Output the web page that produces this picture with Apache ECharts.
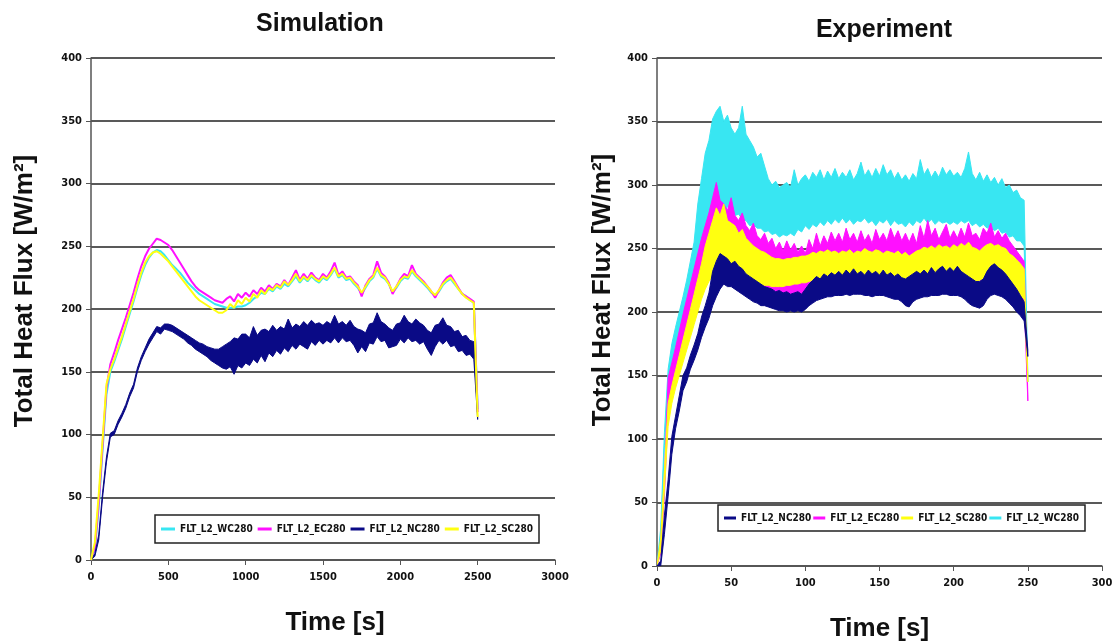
<!DOCTYPE html>
<html>
<head>
<meta charset="utf-8">
<title>Total Heat Flux – Simulation vs Experiment</title>
<script src="https://cdn.jsdelivr.net/npm/echarts@6/dist/echarts.min.js"></script>
<style>
  html, body { margin: 0; padding: 0; background: #ffffff; }
  #chart { width: 1120px; height: 644px; }
</style>
</head>
<body>
<div id="chart"></div>
<script>
// ---------- Simulation (time in s, 25 s sampling) ----------
const simTime = [
  0, 25, 50, 75, 100, 125, 150, 175, 200, 225,
  250, 275, 300, 325, 350, 375, 400, 425, 450, 475,
  500, 525, 550, 575, 600, 625, 650, 675, 700, 725,
  750, 775, 800, 825, 850, 875, 900, 925, 950, 975,
  1000, 1025, 1050, 1075, 1100, 1125, 1150, 1175, 1200, 1225,
  1250, 1275, 1300, 1325, 1350, 1375, 1400, 1425, 1450, 1475,
  1500, 1525, 1550, 1575, 1600, 1625, 1650, 1675, 1700, 1725,
  1750, 1775, 1800, 1825, 1850, 1875, 1900, 1925, 1950, 1975,
  2000, 2025, 2050, 2075, 2100, 2125, 2150, 2175, 2200, 2225,
  2250, 2275, 2300, 2325, 2350, 2375, 2400, 2425, 2450, 2475,
  2500
];
const simWC = [
  0, 8, 42, 88, 132, 150, 158, 167, 176, 186,
  196, 206, 217, 227, 235, 241, 245, 247, 246, 243,
  239, 235, 232, 229, 225, 221, 218, 215, 212, 210,
  208, 206, 204, 203, 202, 201, 201, 201, 202, 202,
  203, 205, 208, 210, 213, 212, 216, 214, 218, 216,
  220, 218, 222, 226, 221, 225, 222, 226, 223, 221,
  225, 223, 227, 232, 225, 227, 223, 224, 220, 217,
  212, 217, 222, 225, 232, 226, 224, 220, 213, 217,
  222, 225, 224, 230, 226, 223, 220, 217, 213, 211,
  214, 219, 222, 224, 220, 216, 212, 210, 207, 205,
  120
];
const simEC = [
  0, 10, 46, 92, 137, 156, 165, 175, 184, 193,
  203, 213, 224, 234, 242, 248, 252, 256, 255, 253,
  251, 247, 242, 237, 232, 227, 222, 218, 215, 213,
  211, 209, 207, 206, 205, 208, 210, 206, 212, 209,
  213, 210, 215, 212, 217, 214, 219, 216, 220, 218,
  223, 219, 225, 231, 223, 228, 224, 229, 225, 223,
  228, 225, 230, 237, 227, 230, 225, 226, 222, 219,
  210, 219, 224, 227, 238, 229, 226, 221, 212, 218,
  224, 228, 226, 235, 228, 225, 222, 218, 214, 209,
  215, 221, 225, 227, 222, 217, 212, 210, 208, 206,
  118
];
const simSC = [
  0, 14, 52, 96, 140, 152, 160, 169, 178, 188,
  198, 208, 219, 229, 237, 242, 245, 246, 244, 241,
  238, 234, 230, 226, 222, 218, 214, 210, 207, 205,
  203, 201, 199, 197, 197, 199, 204, 201, 207, 204,
  209, 206, 212, 209, 215, 212, 217, 215, 219, 217,
  222, 219, 223, 228, 222, 226, 223, 227, 224, 222,
  226, 224, 228, 233, 226, 228, 224, 225, 221, 218,
  213, 218, 223, 226, 233, 227, 225, 220, 214, 218,
  223, 226, 225, 231, 227, 224, 221, 218, 214, 211,
  215, 220, 223, 225, 221, 216, 212, 209, 207, 205,
  114
];
// NC fluctuates strongly: lower and upper envelope of the signal
const simNCLow = [
  0, 3, 16, 50, 78, 98, 100, 108, 114, 121,
  130, 137, 150, 159, 166, 172, 177, 182, 180, 184,
  183, 182, 180, 178, 176, 173, 171, 168, 166, 164,
  162, 159, 157, 155, 153, 152, 154, 148, 155, 153,
  157, 155, 160, 157, 163, 158, 165, 162, 167, 164,
  169, 166, 171, 168, 172, 170, 168, 174, 171, 175,
  172, 175, 173, 177, 173, 177, 174, 175, 171, 165,
  170, 166, 173, 172, 178, 174, 175, 169, 170, 171,
  176, 173, 177, 174, 175, 172, 174, 168, 163, 170,
  175, 172, 175, 170, 171, 166, 167, 163, 164, 160,
  112
];
const simNCHigh = [
  0, 5, 20, 54, 82, 101, 103, 111, 117, 124,
  133, 140, 153, 162, 169, 176, 181, 186, 185, 188,
  188, 187, 185, 183, 181, 179, 177, 175, 173, 172,
  170, 169, 168, 168, 170, 172, 174, 177, 176, 180,
  180, 177, 186, 179, 183, 184, 182, 187, 183, 186,
  184, 192, 185, 188, 186, 190, 187, 191, 188, 189,
  187, 190, 188, 195, 188, 190, 187, 191, 186, 184,
  183, 181, 188, 189, 197, 190, 188, 185, 183, 188,
  189, 195, 190, 188, 192, 189, 187, 183, 181, 187,
  188, 193, 187, 186, 182, 183, 178, 179, 175, 174,
  114
];

// ---------- Experiment (time axis 0-300, sampling 2.5) ----------
const expTime = [
  0, 2.5, 5, 7.5, 10, 12.5, 15, 17.5, 20, 22.5,
  25, 27.5, 30, 32.5, 35, 37.5, 40, 42.5, 45, 47.5,
  50, 52.5, 55, 57.5, 60, 62.5, 65, 67.5, 70, 72.5,
  75, 77.5, 80, 82.5, 85, 87.5, 90, 92.5, 95, 97.5,
  100, 102.5, 105, 107.5, 110, 112.5, 115, 117.5, 120, 122.5,
  125, 127.5, 130, 132.5, 135, 137.5, 140, 142.5, 145, 147.5,
  150, 152.5, 155, 157.5, 160, 162.5, 165, 167.5, 170, 172.5,
  175, 177.5, 180, 182.5, 185, 187.5, 190, 192.5, 195, 197.5,
  200, 202.5, 205, 207.5, 210, 212.5, 215, 217.5, 220, 222.5,
  225, 227.5, 230, 232.5, 235, 237.5, 240, 242.5, 245, 247.5,
  250
];
const expWCLow = [
  0, 20, 95, 145, 160, 172, 185, 195, 205, 215,
  225, 235, 245, 255, 265, 270, 275, 280, 278, 283,
  280, 276, 277, 273, 272, 268, 269, 266, 266, 263,
  264, 261, 262, 259, 261, 260, 262, 260, 265, 263,
  268, 265, 269, 267, 271, 268, 272, 269, 273, 270,
  274, 270, 273, 269, 272, 271, 274, 270, 272, 268,
  272, 270, 273, 268, 272, 269, 270, 267, 271, 268,
  272, 270, 274, 270, 273, 269, 272, 270, 271, 269,
  271, 269, 272, 270, 272, 268, 270, 267, 269, 266,
  268, 264, 266, 262, 263, 259, 260, 256, 256, 252,
  145
];
const expWCHigh = [
  0, 30, 105, 155, 175, 188, 200, 212, 225, 240,
  255, 285, 305, 325, 335, 352, 358, 362, 350, 355,
  345, 340, 345, 362, 340, 335, 330, 322, 325, 315,
  305, 300, 303, 298, 300, 302, 298, 312, 300, 305,
  308, 303, 310, 306, 312, 304, 311, 306, 313, 305,
  310, 306, 312, 304, 309, 318, 307, 312, 306, 313,
  307, 316, 308, 312, 305, 310, 304, 308, 303, 309,
  305, 320, 308, 313, 306, 311, 306, 314, 308, 312,
  307, 310, 306, 313, 326, 309, 304, 310, 303, 308,
  302, 306, 300, 305, 298, 300, 294, 296, 290, 288,
  150
];
const expECLow = [
  0, 10, 55, 120, 140, 150, 160, 170, 180, 190,
  200, 210, 218, 225, 230, 234, 235, 234, 232, 230,
  229, 227, 225, 223, 220, 218, 216, 214, 212, 211,
  210, 209, 208, 208, 207, 207, 207, 208, 209, 210,
  211, 213, 215, 217, 219, 220, 222, 223, 223, 224,
  224, 225, 225, 225, 225, 226, 226, 226, 225, 226,
  226, 226, 226, 225, 225, 225, 224, 224, 222, 223,
  224, 225, 225, 226, 226, 226, 225, 226, 227, 226,
  226, 226, 227, 226, 226, 225, 224, 225, 225, 226,
  226, 225, 225, 224, 223, 220, 217, 214, 211, 208,
  130
];
const expECHigh = [
  0, 18, 70, 148, 160, 172, 185, 198, 210, 222,
  234, 246, 258, 268, 278, 290, 302, 288, 285, 280,
  290, 276, 272, 278, 268, 264, 270, 260, 257, 262,
  254, 258, 250, 255, 248, 256, 249, 254, 247, 252,
  246, 257, 250, 262, 252, 260, 254, 263, 256, 262,
  255, 266, 257, 262, 255, 264, 256, 261, 254, 265,
  257, 262, 256, 266, 258, 264, 256, 262, 255, 262,
  254, 268, 258, 272, 260, 266, 257, 263, 269, 258,
  264, 258, 266, 259, 270, 260, 262, 257, 266, 262,
  270, 259, 264, 258, 262, 256, 252, 248, 244, 240,
  135
];
const expSCLow = [
  0, 12, 60, 110, 128, 140, 150, 160, 170, 180,
  190, 200, 210, 218, 224, 228, 230, 230, 229, 228,
  227, 226, 226, 225, 224, 223, 222, 222, 221, 221,
  221, 220, 220, 220, 220, 221, 221, 222, 222, 223,
  223, 224, 225, 225, 226, 226, 226, 227, 227, 227,
  227, 227, 228, 227, 228, 227, 228, 227, 227, 228,
  227, 227, 226, 227, 226, 226, 225, 225, 224, 225,
  226, 226, 227, 227, 228, 227, 228, 228, 227, 228,
  227, 227, 226, 226, 225, 225, 224, 225, 226, 227,
  227, 226, 226, 225, 224, 222, 219, 216, 213, 210,
  145
];
const expSCHigh = [
  0, 22, 75, 128, 142, 154, 166, 178, 190, 202,
  214, 226, 238, 252, 262, 272, 282, 276, 285, 272,
  270, 268, 262, 265, 258, 255, 252, 250, 248, 247,
  245, 243, 242, 242, 241, 242, 242, 243, 243, 244,
  244, 245, 247, 246, 248, 247, 249, 247, 248, 246,
  248, 247, 249, 246, 248, 247, 250, 248, 247, 249,
  248, 246, 248, 247, 246, 248, 245, 247, 244, 246,
  248, 249, 251, 250, 252, 250, 253, 251, 252, 250,
  253, 251, 254, 252, 255, 251, 250, 248, 251, 253,
  254, 252, 253, 251, 250, 246, 244, 241, 238, 234,
  150
];
const expNCLow = [
  0, 0, 25, 55, 88, 108, 122, 138, 145, 155,
  162, 170, 180, 188, 195, 205, 212, 218, 222, 220,
  220, 218, 216, 214, 212, 210, 208, 207, 205, 205,
  204, 203, 202, 201, 201, 200, 201, 200, 201, 200,
  202, 205, 207, 209, 210, 211, 212, 212, 213, 213,
  213, 214, 213, 214, 214, 214, 213, 213, 212, 213,
  213, 213, 212, 211, 210, 210, 208, 205, 204, 208,
  210, 211, 212, 212, 213, 213, 213, 214, 214, 213,
  213, 213, 212, 210, 207, 205, 204, 203, 205, 210,
  213, 214, 213, 212, 210, 207, 204, 200, 197, 193,
  165
];
const expNCHigh = [
  0, 4, 40, 68, 102, 118, 134, 150, 156, 166,
  174, 183, 196, 205, 215, 232, 240, 246, 244, 242,
  238, 240, 236, 234, 230, 228, 226, 224, 222, 220,
  219, 218, 216, 217, 215, 216, 214, 215, 216, 214,
  218, 222, 225, 228, 226, 230, 228, 231, 229, 232,
  229, 233, 230, 234, 230, 232, 229, 233, 230, 232,
  229, 233, 229, 231, 228, 230, 227, 226, 228, 230,
  232, 230, 233, 230, 235, 231, 234, 236, 232, 235,
  232, 236, 232, 230, 228, 226, 224, 224, 226, 232,
  236, 238, 235, 233, 230, 226, 222, 218, 213, 208,
  170
];

// ---------- axis ticks / labels ----------
const fluxTicks = { min: 0, max: 400, interval: 50 };
const simTimeTicks = { min: 0, max: 3000, interval: 500 };
const expTimeTicks = { min: 0, max: 300, interval: 50 };

const NAMES = {
  WC: 'FLT_L2_WC280',
  EC: 'FLT_L2_EC280',
  NC: 'FLT_L2_NC280',
  SC: 'FLT_L2_SC280'
};
const COLORS = {
  WC: '#38e6f2',
  EC: '#ff10ff',
  NC: '#0a0a86',
  SC: '#ffff10'
};

const tickFont = "'Liberation Sans Narrow', 'DejaVu Sans Condensed', 'Liberation Sans', sans-serif";
const titleFont = "'Liberation Sans', Arial, sans-serif";

function pairs(times, vals) {
  return times.map((t, i) => [t, vals[i]]);
}

function lineSeries(key, g, times, vals, z) {
  return {
    type: 'line',
    name: NAMES[key],
    xAxisIndex: g,
    yAxisIndex: g,
    data: pairs(times, vals),
    symbol: 'none',
    color: COLORS[key],
    lineStyle: { width: 2, color: COLORS[key] },
    silent: true,
    z: z
  };
}

// envelope band between the lower and upper signal values, filled in colour
function bandSeries(key, g, times, lo, hi, z) {
  const color = COLORS[key];
  return {
    type: 'custom',
    name: NAMES[key],
    coordinateSystem: 'cartesian2d',
    xAxisIndex: g,
    yAxisIndex: g,
    data: times.map((t, i) => [t, lo[i], hi[i]]),
    encode: { x: 0, y: [1, 2] },
    color: color,
    itemStyle: { color: color },
    silent: true,
    clip: true,
    z: z,
    renderItem: function (params, api) {
      if (params.dataIndex !== 0) return null;
      const pts = [];
      for (let i = 0; i < times.length; i++) pts.push(api.coord([times[i], hi[i]]));
      for (let i = times.length - 1; i >= 0; i--) pts.push(api.coord([times[i], lo[i]]));
      return {
        type: 'polygon',
        shape: { points: pts },
        style: { fill: color, stroke: color, lineWidth: 1 }
      };
    }
  };
}

function xAxis(g, ticks, gap, namePad) {
  return {
    type: 'value',
    gridIndex: g,
    min: ticks.min, max: ticks.max, interval: ticks.interval,
    name: 'Time [s]',
    nameLocation: 'middle',
    nameGap: gap,
    nameTextStyle: { fontFamily: titleFont, fontWeight: 'bold', fontSize: 26, color: '#111',
                     padding: namePad },
    axisLine: { show: true, lineStyle: { color: '#555', width: 1.5 } },
    axisTick: { show: true, length: 5, lineStyle: { color: '#555' } },
    splitLine: { show: false },
    axisLabel: { fontFamily: tickFont, fontWeight: 'bold', fontSize: 11, color: '#111', margin: 12,
                 formatter: v => String(v) }
  };
}

function yAxis(g) {
  return {
    type: 'value',
    gridIndex: g,
    min: fluxTicks.min, max: fluxTicks.max, interval: fluxTicks.interval,
    axisLine: { show: true, lineStyle: { color: '#555', width: 1.5 } },
    axisTick: { show: true, length: 5, lineStyle: { color: '#555' } },
    splitLine: { show: true, lineStyle: { color: '#222', width: 1.5 } },
    axisLabel: { fontFamily: tickFont, fontWeight: 'bold', fontSize: 11, color: '#111', margin: 9 }
  };
}

function legend(left, top, keys, padV, gap, iconW) {
  return {
    left: left, top: top,
    orient: 'horizontal',
    backgroundColor: '#ffffff',
    borderColor: '#222',
    borderWidth: 1.5,
    padding: [padV, 6, padV, 6],
    itemGap: gap,
    itemWidth: iconW,
    itemHeight: 3,
    icon: 'rect',
    selectedMode: false,
    textStyle: { fontFamily: tickFont, fontWeight: 'bold', fontSize: 10, color: '#111' },
    data: keys.map(k => NAMES[k])
  };
}

function yTitle(x, y) {
  return {
    type: 'text', x: x, y: y, rotation: Math.PI / 2, z: 10,
    style: { text: 'Total Heat Flux [W/m²]', fontFamily: titleFont, fontWeight: 'bold', fontSize: 26,
             fill: '#111', textAlign: 'center', textVerticalAlign: 'middle' }
  };
}

const chart = echarts.init(document.getElementById('chart'), null, { renderer: 'canvas' });

const series = [
  // Simulation
  lineSeries('WC', 0, simTime, simWC, 2),
  lineSeries('EC', 0, simTime, simEC, 3),
  bandSeries('NC', 0, simTime, simNCLow, simNCHigh, 4),
  lineSeries('SC', 0, simTime, simSC, 5),
  // Experiment
  bandSeries('WC', 1, expTime, expWCLow, expWCHigh, 2),
  bandSeries('EC', 1, expTime, expECLow, expECHigh, 3),
  bandSeries('SC', 1, expTime, expSCLow, expSCHigh, 4),
  bandSeries('NC', 1, expTime, expNCLow, expNCHigh, 5)
];

chart.setOption({
  backgroundColor: '#ffffff',
  animation: false,
  grid: [
    { left: 91, top: 58, width: 464, height: 502, outerBoundsMode: 'none' },
    { left: 657, top: 58, width: 445, height: 508, outerBoundsMode: 'none' }
  ],
  xAxis: [xAxis(0, simTimeTicks, 50, [0, 0, 0, 24]), xAxis(1, expTimeTicks, 50, [0, 0, 0, 0])],
  yAxis: [yAxis(0), yAxis(1)],
  legend: [
    legend(155, 515, ['WC', 'EC', 'NC', 'SC'], 9, 5, 14),
    legend(718, 505, ['NC', 'EC', 'SC', 'WC'], 8, 2, 12)
  ],
  graphic: [
    {
      type: 'text', x: 320, y: 24, z: 10,
      style: { text: 'Simulation', fontFamily: titleFont, fontWeight: 'bold', fontSize: 25,
               fill: '#111', textAlign: 'center', textVerticalAlign: 'middle' }
    },
    {
      type: 'text', x: 884, y: 30, z: 10,
      style: { text: 'Experiment', fontFamily: titleFont, fontWeight: 'bold', fontSize: 25,
               fill: '#111', textAlign: 'center', textVerticalAlign: 'middle' }
    },
    yTitle(25, 291),
    yTitle(603, 290)
  ],
  series: series
});
</script>
</body>
</html>
